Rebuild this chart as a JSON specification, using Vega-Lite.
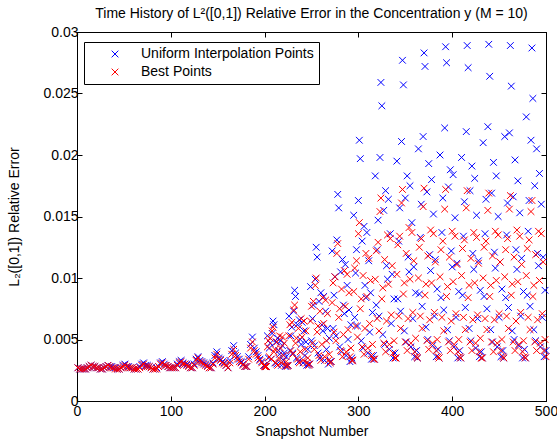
{
"$schema": "https://vega.github.io/schema/vega-lite/v6.json",
"autosize": "none",
"width": 469,
"height": 369,
"padding": {"left": 77, "top": 32, "right": 11, "bottom": 43},
"background": "white",
"title": {"text": "Time History of L²([0,1]) Relative Error in the Concentration y (M = 10)", "font": "Liberation Sans", "fontSize": 14, "fontWeight": "normal", "color": "black", "offset": 4},
"config": {
 "view": {"stroke": "black", "strokeWidth": 1},
 "axis": {"domainColor": "black", "tickColor": "black", "labelColor": "black", "titleColor": "black", "labelFont": "Liberation Sans", "titleFont": "Liberation Sans", "labelFontSize": 14, "titleFontSize": 14, "titleFontWeight": "normal", "grid": false, "tickSize": -5, "domainWidth": 1, "tickWidth": 1, "labelFlush": false, "labelOverlap": false}
},
"data": {"values": [
{"t":1,"u":0.0027,"b":0.0027},{"t":3,"u":0.0026,"b":0.0026},{"t":5,"u":0.0026,"b":0.0026},{"t":7,"u":0.0026,"b":0.0026},{"t":9,"u":0.0026,"b":0.0026},
{"t":11,"u":0.0027,"b":0.0027},{"t":13,"u":0.0028,"b":0.0028},{"t":15,"u":0.0029,"b":0.0029},{"t":17,"u":0.0028,"b":0.0028},{"t":19,"u":0.0028,"b":0.0028},
{"t":21,"u":0.0027,"b":0.0027},{"t":23,"u":0.0027,"b":0.0027},{"t":25,"u":0.0026,"b":0.0026},{"t":27,"u":0.0026,"b":0.0026},{"t":29,"u":0.0027,"b":0.0027},
{"t":31,"u":0.0028,"b":0.0028},{"t":33,"u":0.0029,"b":0.0029},{"t":35,"u":0.0028,"b":0.0028},{"t":37,"u":0.0028,"b":0.0027},{"t":39,"u":0.0027,"b":0.0027},
{"t":41,"u":0.0027,"b":0.0026},{"t":43,"u":0.0026,"b":0.0026},{"t":45,"u":0.0026,"b":0.0026},{"t":47,"u":0.0027,"b":0.0027},{"t":49,"u":0.0029,"b":0.0028},
{"t":51,"u":0.0030,"b":0.0029},{"t":53,"u":0.0028,"b":0.0028},{"t":55,"u":0.0028,"b":0.0027},{"t":57,"u":0.0027,"b":0.0027},{"t":59,"u":0.0027,"b":0.0027},
{"t":61,"u":0.0026,"b":0.0026},{"t":63,"u":0.0026,"b":0.0026},{"t":65,"u":0.0026,"b":0.0026},{"t":67,"u":0.0028,"b":0.0027},{"t":69,"u":0.0030,"b":0.0029},
{"t":71,"u":0.0031,"b":0.0030},{"t":73,"u":0.0029,"b":0.0028},{"t":75,"u":0.0029,"b":0.0028},{"t":77,"u":0.0028,"b":0.0028},{"t":79,"u":0.0027,"b":0.0027},
{"t":81,"u":0.0026,"b":0.0026},{"t":83,"u":0.0026,"b":0.0026},{"t":85,"u":0.0027,"b":0.0026},{"t":87,"u":0.0028,"b":0.0028},{"t":89,"u":0.0031,"b":0.0030},
{"t":91,"u":0.0032,"b":0.0031},{"t":93,"u":0.0030,"b":0.0029},{"t":95,"u":0.0029,"b":0.0029},{"t":97,"u":0.0028,"b":0.0028},{"t":99,"u":0.0027,"b":0.0027},
{"t":101,"u":0.0027,"b":0.0027},{"t":103,"u":0.0027,"b":0.0027},{"t":105,"u":0.0027,"b":0.0027},{"t":107,"u":0.0030,"b":0.0029},{"t":109,"u":0.0032,"b":0.0031},
{"t":111,"u":0.0033,"b":0.0032},{"t":113,"u":0.0031,"b":0.0030},{"t":115,"u":0.0030,"b":0.0030},{"t":117,"u":0.0030,"b":0.0029},{"t":119,"u":0.0029,"b":0.0028},
{"t":121,"u":0.0027,"b":0.0027},{"t":123,"u":0.0027,"b":0.0027},{"t":125,"u":0.0030,"b":0.0029},{"t":127,"u":0.0034,"b":0.0033},{"t":129,"u":0.0036,"b":0.0035},
{"t":131,"u":0.0033,"b":0.0032},{"t":133,"u":0.0032,"b":0.0031},{"t":135,"u":0.0031,"b":0.0030},{"t":137,"u":0.0030,"b":0.0029},{"t":139,"u":0.0029,"b":0.0028},
{"t":141,"u":0.0027,"b":0.0027},{"t":143,"u":0.0027,"b":0.0027},{"t":145,"u":0.0031,"b":0.0030},{"t":147,"u":0.0037,"b":0.0035},{"t":149,"u":0.0040,"b":0.0038},
{"t":151,"u":0.0035,"b":0.0034},{"t":153,"u":0.0034,"b":0.0033},{"t":155,"u":0.0032,"b":0.0031},{"t":157,"u":0.0031,"b":0.0030},{"t":159,"u":0.0029,"b":0.0029},
{"t":161,"u":0.0027,"b":0.0027},{"t":163,"u":0.0033,"b":0.0031},{"t":165,"u":0.0041,"b":0.0038},{"t":167,"u":0.0045,"b":0.0042},{"t":169,"u":0.0039,"b":0.0037},
{"t":171,"u":0.0036,"b":0.0034},{"t":173,"u":0.0034,"b":0.0032},{"t":175,"u":0.0032,"b":0.0031},{"t":177,"u":0.0030,"b":0.0029},{"t":179,"u":0.0028,"b":0.0028},
{"t":181,"u":0.0028,"b":0.0028},{"t":183,"u":0.0036,"b":0.0034},{"t":185,"u":0.0046,"b":0.0043},{"t":187,"u":0.0052,"b":0.0048},{"t":189,"u":0.0043,"b":0.0041},
{"t":191,"u":0.0040,"b":0.0038},{"t":193,"u":0.0037,"b":0.0035},{"t":195,"u":0.0034,"b":0.0033},{"t":197,"u":0.0032,"b":0.0031},{"t":199,"u":0.0029,"b":0.0029},
{"t":200,"u":0.0029,"b":0.0028},{"t":201,"u":0.0028,"b":0.0028},
{"t":202,"u":0.0028,"b":0.0028},{"t":203,"u":0.0053,"b":0.0044},{"t":204,"u":0.0035,"b":0.0049},{"t":205,"u":0.0043,"b":0.0036},{"t":206,"u":0.0047,"b":0.0051},
{"t":207,"u":0.0034,"b":0.0034},{"t":208,"u":0.0055,"b":0.0057},{"t":209,"u":0.0065,"b":0.0060},{"t":210,"u":0.0062,"b":0.0040},{"t":211,"u":0.0031,"b":0.0042},
{"t":212,"u":0.0048,"b":0.0031},{"t":213,"u":0.0030,"b":0.0048},{"t":214,"u":0.0051,"b":0.0029},{"t":215,"u":0.0041,"b":0.0035},{"t":216,"u":0.0038,"b":0.0053},
{"t":217,"u":0.0049,"b":0.0043},{"t":218,"u":0.0029,"b":0.0031},{"t":219,"u":0.0045,"b":0.0052},{"t":220,"u":0.0033,"b":0.0037},{"t":221,"u":0.0039,"b":0.0047},
{"t":222,"u":0.0028,"b":0.0029},{"t":223,"u":0.0036,"b":0.0032},{"t":224,"u":0.0029,"b":0.0028},
{"t":225,"u":0.0029,"b":0.0029},{"t":226,"u":0.0069,"b":0.0053},{"t":227,"u":0.0041,"b":0.0062},{"t":228,"u":0.0053,"b":0.0041},{"t":229,"u":0.0060,"b":0.0064},
{"t":230,"u":0.0039,"b":0.0038},{"t":231,"u":0.0073,"b":0.0074},{"t":232,"u":0.0090,"b":0.0078},{"t":233,"u":0.0085,"b":0.0047},{"t":234,"u":0.0035,"b":0.0051},
{"t":235,"u":0.0062,"b":0.0034},{"t":236,"u":0.0032,"b":0.0059},{"t":237,"u":0.0066,"b":0.0031},{"t":238,"u":0.0050,"b":0.0040},{"t":239,"u":0.0046,"b":0.0067},
{"t":240,"u":0.0064,"b":0.0052},{"t":241,"u":0.0031,"b":0.0033},{"t":242,"u":0.0057,"b":0.0065},{"t":243,"u":0.0037,"b":0.0042},{"t":244,"u":0.0048,"b":0.0057},
{"t":245,"u":0.0029,"b":0.0031},{"t":246,"u":0.0042,"b":0.0035},{"t":247,"u":0.0030,"b":0.0029},
{"t":248,"u":0.0030,"b":0.0030},{"t":249,"u":0.0093,"b":0.0065},{"t":250,"u":0.0049,"b":0.0077},{"t":251,"u":0.0067,"b":0.0047},{"t":252,"u":0.0078,"b":0.0081},
{"t":253,"u":0.0045,"b":0.0042},{"t":254,"u":0.0099,"b":0.0094},{"t":255,"u":0.0125,"b":0.0100},{"t":256,"u":0.0117,"b":0.0056},{"t":257,"u":0.0039,"b":0.0061},
{"t":258,"u":0.0081,"b":0.0037},{"t":259,"u":0.0035,"b":0.0073},{"t":260,"u":0.0088,"b":0.0033},{"t":261,"u":0.0062,"b":0.0046},{"t":262,"u":0.0057,"b":0.0084},
{"t":263,"u":0.0085,"b":0.0063},{"t":264,"u":0.0033,"b":0.0036},{"t":265,"u":0.0073,"b":0.0082},{"t":266,"u":0.0042,"b":0.0049},{"t":267,"u":0.0059,"b":0.0071},
{"t":268,"u":0.0030,"b":0.0033},{"t":269,"u":0.0051,"b":0.0038},{"t":270,"u":0.0032,"b":0.0031},
{"t":271,"u":0.0032,"b":0.0032},{"t":272,"u":0.0122,"b":0.0080},{"t":273,"u":0.0059,"b":0.0096},{"t":274,"u":0.0086,"b":0.0056},{"t":275,"u":0.0101,"b":0.0101},
{"t":276,"u":0.0053,"b":0.0049},{"t":277,"u":0.0131,"b":0.0120},{"t":278,"u":0.0168,"b":0.0128},{"t":279,"u":0.0157,"b":0.0068},{"t":280,"u":0.0044,"b":0.0075},
{"t":281,"u":0.0105,"b":0.0041},{"t":282,"u":0.0040,"b":0.0091},{"t":283,"u":0.0115,"b":0.0036},{"t":284,"u":0.0078,"b":0.0054},{"t":285,"u":0.0071,"b":0.0106},
{"t":286,"u":0.0111,"b":0.0077},{"t":287,"u":0.0037,"b":0.0040},{"t":288,"u":0.0094,"b":0.0103},{"t":289,"u":0.0050,"b":0.0058},{"t":290,"u":0.0074,"b":0.0088},
{"t":291,"u":0.0032,"b":0.0036},{"t":292,"u":0.0062,"b":0.0043},{"t":293,"u":0.0035,"b":0.0033},
{"t":294,"u":0.0033,"b":0.0033},{"t":295,"u":0.0151,"b":0.0089},{"t":296,"u":0.0068,"b":0.0108},{"t":297,"u":0.0104,"b":0.0061},{"t":298,"u":0.0123,"b":0.0114},
{"t":299,"u":0.0061,"b":0.0052},{"t":300,"u":0.0163,"b":0.0136},{"t":301,"u":0.0212,"b":0.0145},{"t":302,"u":0.0197,"b":0.0075},{"t":303,"u":0.0049,"b":0.0083},
{"t":304,"u":0.0130,"b":0.0044},{"t":305,"u":0.0043,"b":0.0102},{"t":306,"u":0.0142,"b":0.0038},{"t":307,"u":0.0094,"b":0.0059},{"t":308,"u":0.0084,"b":0.0120},
{"t":309,"u":0.0137,"b":0.0085},{"t":310,"u":0.0039,"b":0.0043},{"t":311,"u":0.0114,"b":0.0116},{"t":312,"u":0.0056,"b":0.0063},{"t":313,"u":0.0088,"b":0.0098},
{"t":314,"u":0.0034,"b":0.0037},{"t":315,"u":0.0072,"b":0.0046},{"t":316,"u":0.0037,"b":0.0034},
{"t":317,"u":0.0034,"b":0.0034},{"t":318,"u":0.0183,"b":0.0099},{"t":319,"u":0.0078,"b":0.0122},{"t":320,"u":0.0123,"b":0.0067},{"t":321,"u":0.0147,"b":0.0129},
{"t":322,"u":0.0069,"b":0.0057},{"t":323,"u":0.0198,"b":0.0154},{"t":324,"u":0.0259,"b":0.0165},{"t":325,"u":0.0240,"b":0.0083},{"t":326,"u":0.0054,"b":0.0092},
{"t":327,"u":0.0155,"b":0.0047},{"t":328,"u":0.0046,"b":0.0115},{"t":329,"u":0.0171,"b":0.0040},{"t":330,"u":0.0110,"b":0.0065},{"t":331,"u":0.0099,"b":0.0135},
{"t":332,"u":0.0164,"b":0.0095},{"t":333,"u":0.0042,"b":0.0046},{"t":334,"u":0.0136,"b":0.0132},{"t":335,"u":0.0063,"b":0.0070},{"t":336,"u":0.0103,"b":0.0110},
{"t":337,"u":0.0035,"b":0.0039},{"t":338,"u":0.0083,"b":0.0049},{"t":339,"u":0.0039,"b":0.0035},
{"t":340,"u":0.0035,"b":0.0035},{"t":341,"u":0.0195,"b":0.0103},{"t":342,"u":0.0083,"b":0.0127},{"t":343,"u":0.0130,"b":0.0069},{"t":344,"u":0.0157,"b":0.0134},
{"t":345,"u":0.0073,"b":0.0059},{"t":346,"u":0.0211,"b":0.0161},{"t":347,"u":0.0277,"b":0.0172},{"t":348,"u":0.0257,"b":0.0087},{"t":349,"u":0.0057,"b":0.0096},
{"t":350,"u":0.0165,"b":0.0048},{"t":351,"u":0.0048,"b":0.0120},{"t":352,"u":0.0183,"b":0.0041},{"t":353,"u":0.0117,"b":0.0067},{"t":354,"u":0.0105,"b":0.0141},
{"t":355,"u":0.0175,"b":0.0099},{"t":356,"u":0.0044,"b":0.0047},{"t":357,"u":0.0145,"b":0.0137},{"t":358,"u":0.0067,"b":0.0072},{"t":359,"u":0.0109,"b":0.0114},
{"t":360,"u":0.0036,"b":0.0040},{"t":361,"u":0.0088,"b":0.0051},{"t":362,"u":0.0041,"b":0.0036},
{"t":363,"u":0.0035,"b":0.0035},{"t":364,"u":0.0205,"b":0.0100},{"t":365,"u":0.0087,"b":0.0125},{"t":366,"u":0.0133,"b":0.0069},{"t":367,"u":0.0160,"b":0.0132},
{"t":368,"u":0.0077,"b":0.0059},{"t":369,"u":0.0215,"b":0.0158},{"t":370,"u":0.0283,"b":0.0173},{"t":371,"u":0.0272,"b":0.0086},{"t":372,"u":0.0060,"b":0.0095},
{"t":373,"u":0.0170,"b":0.0049},{"t":374,"u":0.0050,"b":0.0118},{"t":375,"u":0.0193,"b":0.0042},{"t":376,"u":0.0119,"b":0.0066},{"t":377,"u":0.0106,"b":0.0139},
{"t":378,"u":0.0180,"b":0.0096},{"t":379,"u":0.0045,"b":0.0047},{"t":380,"u":0.0152,"b":0.0136},{"t":381,"u":0.0069,"b":0.0072},{"t":382,"u":0.0115,"b":0.0113},
{"t":383,"u":0.0036,"b":0.0041},{"t":384,"u":0.0091,"b":0.0050},{"t":385,"u":0.0042,"b":0.0036},
{"t":386,"u":0.0035,"b":0.0035},{"t":387,"u":0.0200,"b":0.0101},{"t":388,"u":0.0084,"b":0.0123},{"t":389,"u":0.0137,"b":0.0068},{"t":390,"u":0.0165,"b":0.0130},
{"t":391,"u":0.0074,"b":0.0057},{"t":392,"u":0.0222,"b":0.0156},{"t":393,"u":0.0288,"b":0.0172},{"t":394,"u":0.0275,"b":0.0085},{"t":395,"u":0.0058,"b":0.0093},
{"t":396,"u":0.0174,"b":0.0048},{"t":397,"u":0.0049,"b":0.0117},{"t":398,"u":0.0188,"b":0.0041},{"t":399,"u":0.0122,"b":0.0065},{"t":400,"u":0.0109,"b":0.0138},
{"t":401,"u":0.0184,"b":0.0097},{"t":402,"u":0.0044,"b":0.0046},{"t":403,"u":0.0149,"b":0.0134},{"t":404,"u":0.0068,"b":0.0071},{"t":405,"u":0.0112,"b":0.0111},
{"t":406,"u":0.0035,"b":0.0040},{"t":407,"u":0.0089,"b":0.0050},{"t":408,"u":0.0041,"b":0.0036},
{"t":409,"u":0.0035,"b":0.0035},{"t":410,"u":0.0198,"b":0.0102},{"t":411,"u":0.0086,"b":0.0124},{"t":412,"u":0.0134,"b":0.0068},{"t":413,"u":0.0162,"b":0.0131},
{"t":414,"u":0.0076,"b":0.0058},{"t":415,"u":0.0219,"b":0.0157},{"t":416,"u":0.0289,"b":0.0171},{"t":417,"u":0.0271,"b":0.0084},{"t":418,"u":0.0059,"b":0.0094},
{"t":419,"u":0.0171,"b":0.0048},{"t":420,"u":0.0049,"b":0.0116},{"t":421,"u":0.0191,"b":0.0041},{"t":422,"u":0.0120,"b":0.0066},{"t":423,"u":0.0107,"b":0.0137},
{"t":424,"u":0.0181,"b":0.0096},{"t":425,"u":0.0043,"b":0.0047},{"t":426,"u":0.0151,"b":0.0133},{"t":427,"u":0.0067,"b":0.0070},{"t":428,"u":0.0114,"b":0.0112},
{"t":429,"u":0.0036,"b":0.0040},{"t":430,"u":0.0090,"b":0.0051},{"t":431,"u":0.0040,"b":0.0035},
{"t":432,"u":0.0035,"b":0.0035},{"t":433,"u":0.0210,"b":0.0100},{"t":434,"u":0.0085,"b":0.0125},{"t":435,"u":0.0136,"b":0.0067},{"t":436,"u":0.0164,"b":0.0130},
{"t":437,"u":0.0075,"b":0.0058},{"t":438,"u":0.0223,"b":0.0155},{"t":439,"u":0.0290,"b":0.0169},{"t":440,"u":0.0264,"b":0.0085},{"t":441,"u":0.0058,"b":0.0094},
{"t":442,"u":0.0169,"b":0.0048},{"t":443,"u":0.0048,"b":0.0118},{"t":444,"u":0.0194,"b":0.0040},{"t":445,"u":0.0121,"b":0.0066},{"t":446,"u":0.0108,"b":0.0138},
{"t":447,"u":0.0183,"b":0.0098},{"t":448,"u":0.0044,"b":0.0047},{"t":449,"u":0.0150,"b":0.0135},{"t":450,"u":0.0068,"b":0.0071},{"t":451,"u":0.0113,"b":0.0113},
{"t":452,"u":0.0036,"b":0.0041},{"t":453,"u":0.0091,"b":0.0050},{"t":454,"u":0.0041,"b":0.0036},
{"t":455,"u":0.0035,"b":0.0035},{"t":456,"u":0.0215,"b":0.0101},{"t":457,"u":0.0084,"b":0.0123},{"t":458,"u":0.0135,"b":0.0069},{"t":459,"u":0.0161,"b":0.0132},
{"t":460,"u":0.0076,"b":0.0059},{"t":461,"u":0.0218,"b":0.0156},{"t":462,"u":0.0289,"b":0.0167},{"t":463,"u":0.0256,"b":0.0086},{"t":464,"u":0.0057,"b":0.0095},
{"t":465,"u":0.0166,"b":0.0048},{"t":466,"u":0.0050,"b":0.0117},{"t":467,"u":0.0196,"b":0.0041},{"t":468,"u":0.0123,"b":0.0065},{"t":469,"u":0.0107,"b":0.0139},
{"t":470,"u":0.0179,"b":0.0097},{"t":471,"u":0.0045,"b":0.0046},{"t":472,"u":0.0153,"b":0.0134},{"t":473,"u":0.0069,"b":0.0072},{"t":474,"u":0.0116,"b":0.0111},
{"t":475,"u":0.0035,"b":0.0040},{"t":476,"u":0.0089,"b":0.0049},{"t":477,"u":0.0042,"b":0.0036},
{"t":478,"u":0.0035,"b":0.0035},{"t":479,"u":0.0231,"b":0.0102},{"t":480,"u":0.0086,"b":0.0124},{"t":481,"u":0.0138,"b":0.0068},{"t":482,"u":0.0163,"b":0.0131},
{"t":483,"u":0.0077,"b":0.0058},{"t":484,"u":0.0212,"b":0.0154},{"t":485,"u":0.0287,"b":0.0163},{"t":486,"u":0.0246,"b":0.0085},{"t":487,"u":0.0058,"b":0.0094},
{"t":488,"u":0.0175,"b":0.0048},{"t":489,"u":0.0049,"b":0.0119},{"t":490,"u":0.0205,"b":0.0041},{"t":491,"u":0.0120,"b":0.0066},{"t":492,"u":0.0110,"b":0.0138},
{"t":493,"u":0.0185,"b":0.0098},{"t":494,"u":0.0044,"b":0.0047},{"t":495,"u":0.0160,"b":0.0136},{"t":496,"u":0.0068,"b":0.0071},{"t":497,"u":0.0117,"b":0.0113},
{"t":498,"u":0.0036,"b":0.0041},{"t":499,"u":0.0090,"b":0.0050},{"t":500,"u":0.0041,"b":0.0036}
]},
"layer": [
 {
  "mark": {"type": "point", "shape": "M-1,-1L1,1M-1,1L1,-1", "filled": false, "size": 45, "strokeWidth": 1, "opacity": 1},
  "encoding": {
   "x": {"field": "t", "type": "quantitative", "scale": {"domain": [0, 500], "nice": false, "zero": false},
         "axis": {"orient": "bottom", "values": [0, 100, 200, 300, 400, 500], "format": "d", "title": "Snapshot Number", "labelPadding": 8, "titlePadding": 6}},
   "y": {"field": "u", "type": "quantitative", "scale": {"domain": [0, 0.03], "nice": false, "zero": false},
         "axis": {"orient": "left", "values": [0, 0.005, 0.01, 0.015, 0.02, 0.025, 0.03], "format": "~g", "title": "L₂([0,1]) Relative Error", "labelPadding": 4, "titlePadding": 21}},
   "color": {"datum": "Uniform Interpolation Points", "type": "nominal",
             "scale": {"domain": ["Uniform Interpolation Points", "Best Points"], "range": ["#0000ff", "#ff0000"]},
             "legend": {"orient": "none", "legendX": 7, "legendY": 10, "title": null, "strokeColor": "black", "fillColor": "white", "padding": 5, "symbolOffset": 19, "labelOffset": 19, "rowPadding": 4, "labelLimit": 0, "symbolType": "M-1,-1L1,1M-1,1L1,-1", "symbolSize": 45, "symbolStrokeWidth": 1, "symbolFillColor": "transparent", "labelFont": "Liberation Sans", "labelFontSize": 14, "labelColor": "black"}}
  }
 },
 {
  "mark": {"type": "point", "shape": "M-1,-1L1,1M-1,1L1,-1", "filled": false, "size": 45, "strokeWidth": 1, "opacity": 1},
  "encoding": {
   "x": {"field": "t", "type": "quantitative", "scale": {"domain": [0, 500], "nice": false, "zero": false},
         "axis": {"orient": "top", "values": [0, 100, 200, 300, 400, 500], "labels": false, "title": null}},
   "y": {"field": "b", "type": "quantitative", "scale": {"domain": [0, 0.03], "nice": false, "zero": false},
         "axis": {"orient": "right", "values": [0, 0.005, 0.01, 0.015, 0.02, 0.025, 0.03], "labels": false, "title": null}},
   "color": {"datum": "Best Points", "type": "nominal"}
  }
 }
],
"resolve": {"axis": {"x": "independent", "y": "independent"}}
}
